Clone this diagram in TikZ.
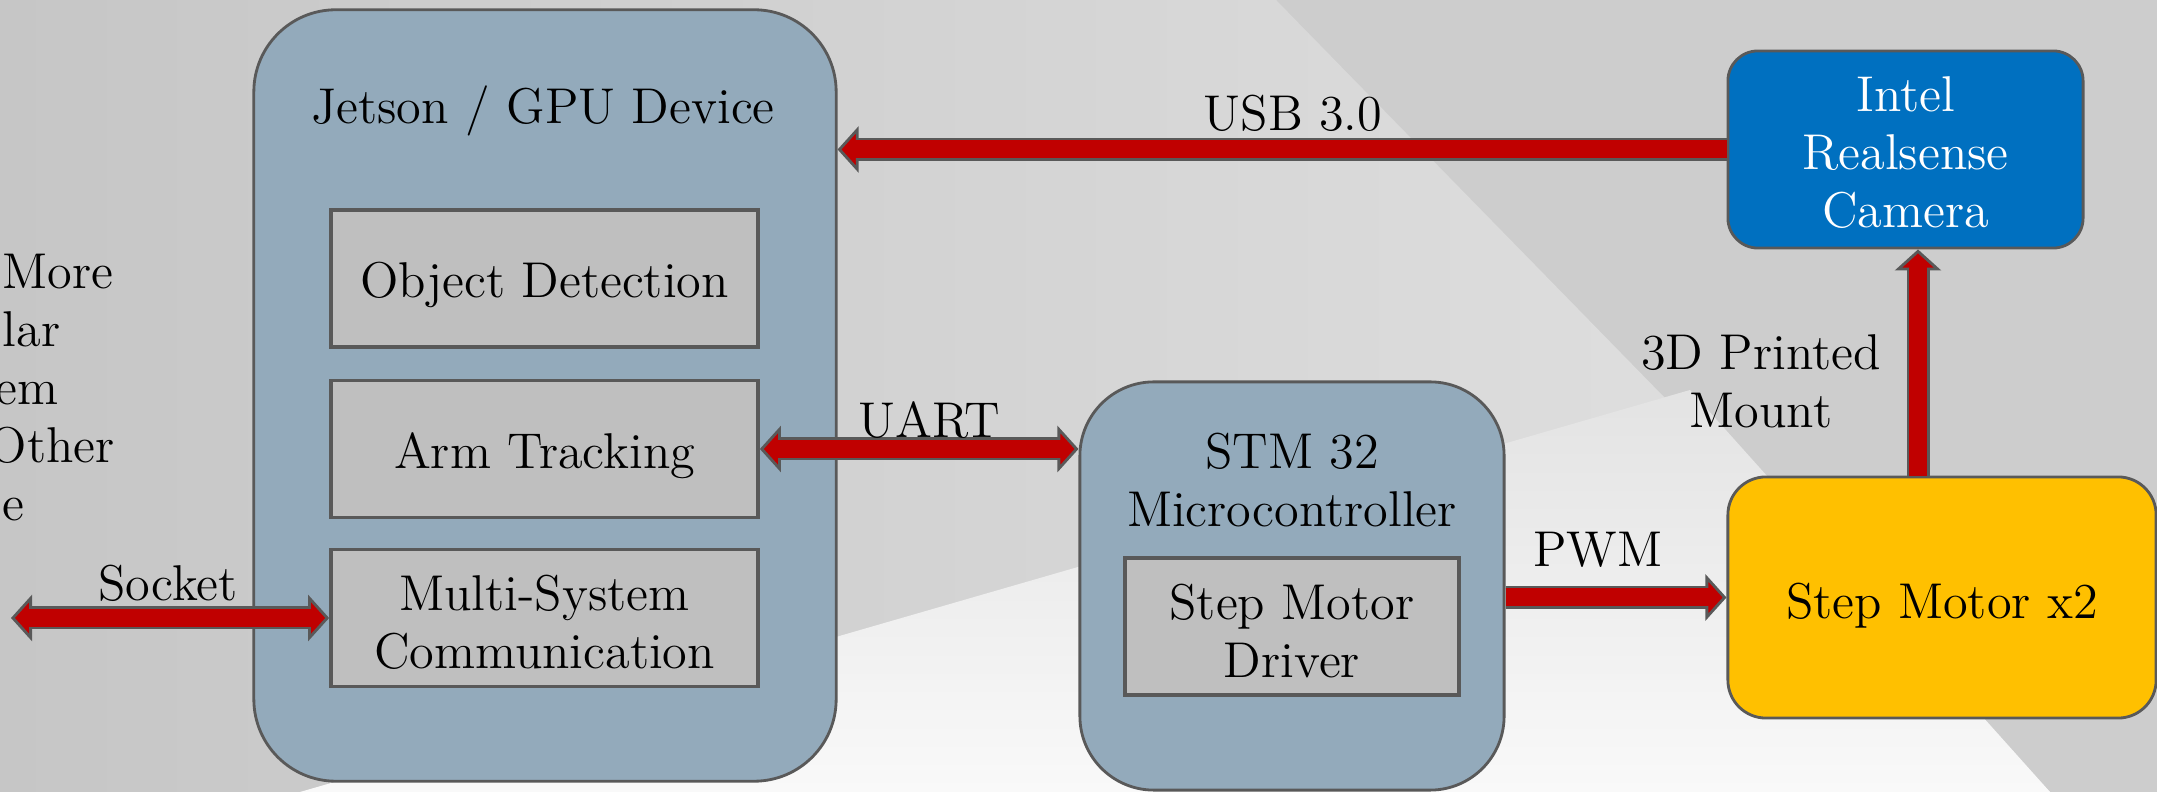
\documentclass[tikz,border=0pt]{standalone}
\usepackage{tikz}
\usetikzlibrary{arrows.meta,positioning,calc,backgrounds}
\definecolor{bgbase}{HTML}{CDCDCD}
\definecolor{bgleft}{HTML}{C6C6C6}
\definecolor{bglight}{HTML}{E3E3E3}
\definecolor{bgwhite}{HTML}{F9F9F9}
\definecolor{unitfill}{HTML}{93AABB}
\definecolor{modfill}{HTML}{BFBFBF}
\definecolor{edgegray}{HTML}{595959}
\definecolor{camblue}{HTML}{0070C0}
\definecolor{motoryellow}{HTML}{FFC000}
\definecolor{arrred}{HTML}{C00000}
\newcommand{\textdrop}[1]{\rule{0pt}{#1}}

\begin{document}
\begin{tikzpicture}[x=0.01cm, y=-0.01cm,
    font=\fontsize{14.3}{16.5}\selectfont,
    unit/.style={draw=edgegray, line width=0.8pt, fill=unitfill, rounded corners=0.82cm},
    module/.style={draw=edgegray, line width=1pt, fill=modfill, align=center,
        minimum width=4.27cm, minimum height=1.37cm},
    device/.style={draw=edgegray, line width=0.8pt, align=center, rounded corners=0.3cm},
    flow/.style={draw=arrred, line width=0.18cm,
        preaction={draw=edgegray, line width=0.23cm, arrows=-, shorten >=0.2cm},
        postaction={draw=arrred, line width=0.18cm, arrows=-, shorten >=0.16cm},
        -{Triangle[width=0.46cm, length=0.21cm, fill=arrred, color=edgegray, line width=0.8pt]}},
    biflow/.style={draw=arrred, line width=0.18cm,
        preaction={draw=edgegray, line width=0.23cm, arrows=-, shorten >=0.2cm, shorten <=0.2cm},
        postaction={draw=arrred, line width=0.18cm, arrows=-, shorten >=0.16cm, shorten <=0.16cm},
        {Triangle[width=0.46cm, length=0.21cm, fill=arrred, color=edgegray, line width=0.8pt]}-{Triangle[width=0.46cm, length=0.21cm, fill=arrred, color=edgegray, line width=0.8pt]}},
]
    \useasboundingbox (0,0) rectangle (2157,792);
    \clip (0,0) rectangle (2157,792);

    % backdrop
    \fill[bgbase] (0,0) rectangle (2157,792);
    \shade[left color=bgleft, right color=bglight] (0,0) -- (1276,0) -- (2050,792) -- (0,792) -- cycle;
    \shade[top color=bglight, bottom color=bgwhite] (300,792) -- (1690,390) -- (2050,792) -- cycle;

    % jetson side
    \node[unit, minimum width=5.82cm, minimum height=7.71cm] (jetson) at (545,395.5) {};
    \node (jetsonname) at (543,111) {Jetson / GPU Device};
    \node[module] (objdet) at (544.5,278.5) {\textdrop{14pt}Object Detection};
    \node[module] (armtrack) at (544.5,449) {\textdrop{14pt}Arm Tracking};
    \node[module] (multisys) at (544.5,618) {\textdrop{12.4pt}Multi-System\\Communication};

    % microcontroller
    \node[unit, minimum width=4.24cm, minimum height=4.08cm, rounded corners=0.74cm] (stm) at (1292,586) {};
    \node[align=center] (stmname) at (1292,480) {STM 32\\Microcontroller};
    \node[module, minimum width=3.34cm] (driver) at (1292,626.5) {\textdrop{12.8pt}Step Motor\\Driver};

    % camera and motor
    \node[device, fill=camblue, text=white, minimum width=3.55cm, minimum height=1.97cm] (camera) at (1905.5,149.5) {\textdrop{11.5pt}Intel\\Realsense\\Camera};
    \node[device, fill=motoryellow, minimum width=4.28cm, minimum height=2.41cm, rounded corners=0.38cm] (motor) at (1942,597.5) {\textdrop{14.8pt}Step Motor x2};

    % cut off text on the left
    \node[anchor=west, align=left, inner sep=0pt] (othersys) at (2,388) {More\\lar\\\hspace*{-0.07cm}em\\\hspace*{-0.14cm}Other\\e};

    \coordinate (sockend) at (11,618);
    \coordinate (mountx) at (1918,0);

    \draw[flow] (camera.west) -- (camera.west -| jetson.east);
    \draw[biflow] (armtrack.east) -- (armtrack.east -| stm.west);
    \draw[biflow] (sockend) -- (multisys.west);
    \draw[flow] (motor.west -| stm.east) -- (motor.west);
    \draw[flow] (motor.north -| mountx) -- (camera.south -| mountx);

    \node (usblabel) at (1293,113) {USB 3.0};
    \node (uartlabel) at (929,420) {UART};
    \node (socketlabel) at (168,583) {Socket};
    \node (pwmlabel) at (1598,550) {PWM};
    \node[align=center] (mountlabel) at (1761,381) {3D Printed\\Mount};
\end{tikzpicture}
\end{document}
